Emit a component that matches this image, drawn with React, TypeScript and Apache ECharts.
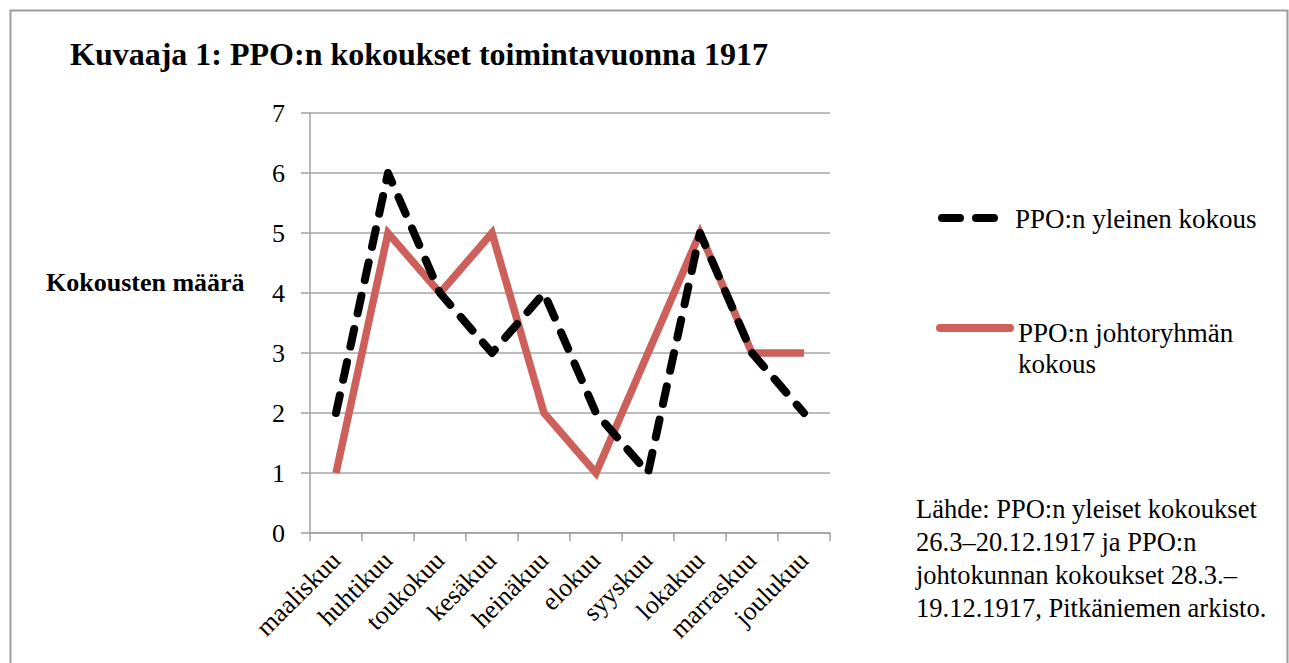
import React, { useEffect, useRef } from "react";
import * as echarts from "echarts";

const months = ["maaliskuu", "huhtikuu", "toukokuu", "kesäkuu", "heinäkuu", "elokuu", "syyskuu", "lokakuu", "marraskuu", "joulukuu"];
const generalMeetings = [2, 6, 4, 3, 4, 2, 1, 5, 3, 2];
const boardMeetings = [1, 5, 4, 5, 2, 1, 3, 5, 3, 3];
const seriesNames = ["PPO:n yleinen kokous", "PPO:n johtoryhmän kokous"];
const yTicks = { min: 0, max: 7, interval: 1 };

const FAMILY = "Liberation Serif";
const RED = "#cd605a";

export default function App() {
  const ref = useRef<HTMLDivElement>(null);
  useEffect(() => {
    document.body.style.margin = "0";
    const chart = echarts.init(ref.current!, null, { renderer: "svg" });
    chart.setOption({
      animation: false,
      backgroundColor: "#fff",
      textStyle: { fontFamily: FAMILY },
      title: {
        text: "Kuvaaja 1: PPO:n kokoukset toimintavuonna 1917",
        left: 65,
        top: 33,
        textStyle: { fontFamily: FAMILY, fontWeight: "bold", fontSize: 32, color: "#000" },
      },
      grid: { left: 310, right: 459, top: 113, bottom: 130, containLabel: false },
      xAxis: {
        type: "category",
        data: months,
        boundaryGap: true,
        axisLine: { lineStyle: { color: "#a0a0a0", width: 1.5 } },
        axisTick: { show: true, length: 8, lineStyle: { color: "#a0a0a0", width: 1.5 } },
        axisLabel: { rotate: 45, fontFamily: FAMILY, fontSize: 26, color: "#000", margin: 23, interval: 0 },
      },
      yAxis: {
        type: "value",
        min: yTicks.min,
        max: yTicks.max,
        interval: yTicks.interval,
        axisLine: { show: true, lineStyle: { color: "#a0a0a0", width: 1.5 } },
        axisTick: { show: true, length: 9, lineStyle: { color: "#a0a0a0", width: 1.5 } },
        splitLine: { lineStyle: { color: "#a6a6a6", width: 1.5 } },
        axisLabel: { fontFamily: FAMILY, fontSize: 26, color: "#000", margin: 25 },
      },
      series: [
        {
          name: seriesNames[0],
          type: "line",
          data: generalMeetings,
          showSymbol: false,
          lineStyle: { color: "#000", width: 8, type: [18, 16], cap: "round", join: "round" },
          z: 3,
        },
        {
          name: seriesNames[1],
          type: "line",
          data: boardMeetings,
          showSymbol: false,
          lineStyle: { color: RED, width: 7.5, type: "solid", cap: "butt", join: "miter" },
          z: 2,
        },
      ],
      graphic: [
        {
          type: "rect",
          shape: { x: 10.5, y: 10.5, width: 1277, height: 700 },
          style: { fill: "none", stroke: "#9c9c9c", lineWidth: 2 },
          silent: true,
        },
        {
          type: "text",
          x: 46,
          y: 282,
          style: { text: "Kokousten määrä", font: "bold 26px 'Liberation Serif'", fill: "#000", verticalAlign: "middle" },
        },
        {
          type: "line",
          shape: { x1: 942, y1: 218, x2: 1002, y2: 218 },
          style: { stroke: "#000", lineWidth: 8, lineDash: [18, 16], lineCap: "round" },
        },
        {
          type: "text",
          x: 1015,
          y: 219,
          style: { text: seriesNames[0], font: "27px 'Liberation Serif'", fill: "#000", verticalAlign: "middle" },
        },
        {
          type: "line",
          shape: { x1: 940, y1: 328, x2: 1010, y2: 328 },
          style: { stroke: RED, lineWidth: 8, lineCap: "round" },
        },
        {
          type: "text",
          x: 1018,
          y: 317,
          style: { text: "PPO:n johtoryhmän\nkokous", font: "27px 'Liberation Serif'", lineHeight: 31, fill: "#000", verticalAlign: "top" },
        },
        {
          type: "text",
          x: 916,
          y: 492,
          style: {
            text: "Lähde: PPO:n yleiset kokoukset\n26.3–20.12.1917 ja PPO:n\njohtokunnan kokoukset 28.3.–\n19.12.1917, Pitkäniemen arkisto.",
            font: "26.5px 'Liberation Serif'",
            lineHeight: 33,
            fill: "#000",
            verticalAlign: "top",
          },
        },
      ],
    });
    return () => chart.dispose();
  }, []);
  return <div ref={ref} style={{ width: 1289, height: 663 }} />;
}
